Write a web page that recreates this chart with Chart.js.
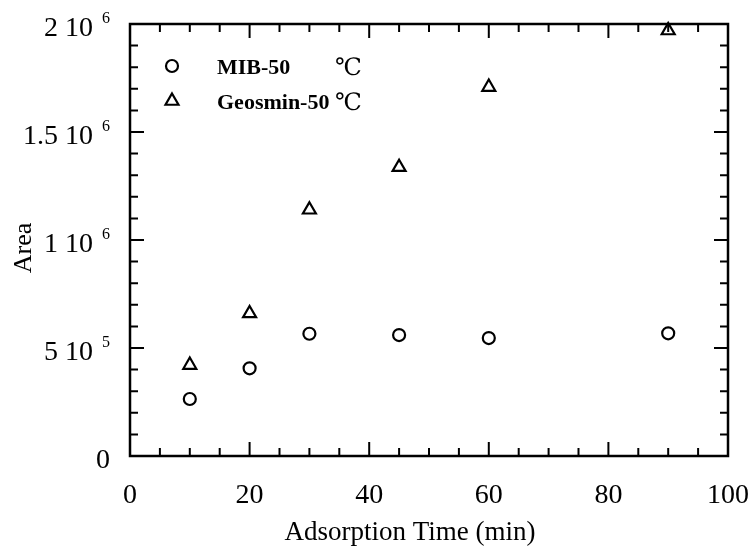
<!DOCTYPE html>
<html>
<head>
<meta charset="utf-8">
<script src="https://cdn.jsdelivr.net/npm/chart.js@4.4.1/dist/chart.umd.min.js"></script>
<style>
  html, body { margin: 0; padding: 0; background: #fff; }
  #wrap { width: 748px; height: 554px; }
</style>
</head>
<body>
<div id="wrap"><canvas id="c" width="748" height="554"></canvas></div>
<script>
// Adsorption time (min) at which each sample was taken
const adsorptionTime = [10, 20, 30, 45, 60, 90];
// Peak areas for each compound at 50 °C
const mibArea = [264000, 406000, 566000, 560000, 546000, 568000];
const geosminArea = [421000, 660000, 1140000, 1337000, 1708000, 1970000];
const seriesNames = ['MIB-50 \u2103', 'Geosmin-50 \u2103'];

// Axis tick labels: y ticks are written as mantissa + superscript power of ten
const xTickValues = [0, 20, 40, 60, 80, 100];
const xTickLabels = ['0', '20', '40', '60', '80', '100'];
const yTickValues = [0, 500000, 1000000, 1500000, 2000000];
const yTickMantissas = ['0', '5 10', '1 10', '1.5 10', '2 10'];
const yTickPowers = ['', '5', '6', '6', '6'];
const xTitle = 'Adsorption Time (min)';
const yTitle = 'Area';

const SERIF = '"Liberation Serif", "DejaVu Serif", "Noto Sans CJK JP", serif';

// Frame, inward ticks, tick labels, titles and in-plot legend
const framePlugin = {
  id: 'frame',
  afterDraw(chart) {
    const ctx = chart.ctx;
    const a = chart.chartArea;
    const xs = chart.scales.x, ys = chart.scales.y;
    ctx.save();
    ctx.strokeStyle = '#000';
    ctx.fillStyle = '#000';

    // axis frame
    ctx.lineWidth = 2.5;
    ctx.strokeRect(a.left, a.top, a.right - a.left, a.bottom - a.top);

    // inward ticks on all four sides
    ctx.lineWidth = 2;
    const MAJ = 14, MIN = 8;
    for (let v = 5; v < 100; v += 5) {
      const px = xs.getPixelForValue(v);
      const len = v % 20 === 0 ? MAJ : MIN;
      ctx.beginPath();
      ctx.moveTo(px, a.bottom); ctx.lineTo(px, a.bottom - len);
      ctx.moveTo(px, a.top); ctx.lineTo(px, a.top + len);
      ctx.stroke();
    }
    for (let v = 100000; v < 2000000; v += 100000) {
      const py = ys.getPixelForValue(v);
      const len = v % 500000 === 0 ? MAJ : MIN;
      ctx.beginPath();
      ctx.moveTo(a.left, py); ctx.lineTo(a.left + len, py);
      ctx.moveTo(a.right, py); ctx.lineTo(a.right - len, py);
      ctx.stroke();
    }

    // x tick labels
    ctx.font = '28px ' + SERIF;
    ctx.textAlign = 'center';
    ctx.textBaseline = 'alphabetic';
    xTickValues.forEach((v, i) => {
      ctx.fillText(xTickLabels[i], xs.getPixelForValue(v), a.bottom + 47);
    });

    // y tick labels with superscript powers
    const rightEdge = a.left - 20;
    yTickValues.forEach((v, i) => {
      const py = ys.getPixelForValue(v);
      let x = rightEdge;
      ctx.textBaseline = 'alphabetic';
      ctx.textAlign = 'right';
      if (yTickPowers[i]) {
        ctx.font = '16px ' + SERIF;
        ctx.fillText(yTickPowers[i], x, py - 1);
        x -= ctx.measureText(yTickPowers[i]).width + 9;
      }
      ctx.font = '28px ' + SERIF;
      ctx.fillText(yTickMantissas[i], x, py + 12);
    });

    // axis titles
    ctx.font = '27px ' + SERIF;
    ctx.textAlign = 'center';
    ctx.textBaseline = 'alphabetic';
    ctx.fillText(xTitle, 410, 540);
    ctx.save();
    ctx.translate(31, 248);
    ctx.rotate(-Math.PI / 2);
    ctx.font = '26px ' + SERIF;
    ctx.fillText(yTitle, 0, 0);
    ctx.restore();

    // legend inside the plot area: marker, bold name, unit in its own column
    const unitColumn = 335;
    chart.data.datasets.forEach((ds, i) => {
      const cy = 66 + i * 35;
      ctx.save();
      ctx.fillStyle = ds.backgroundColor;
      ctx.strokeStyle = ds.borderColor;
      ctx.lineWidth = ds.borderWidth;
      Chart.helpers.drawPoint(ctx, {
        pointStyle: ds.pointStyle,
        radius: ds.pointRadius,
        borderWidth: ds.borderWidth,
        rotation: 0
      }, 172, cy);
      ctx.restore();
      const cut = ds.label.lastIndexOf(' ');
      const name = ds.label.slice(0, cut);
      const unit = ds.label.slice(cut + 1);
      ctx.textAlign = 'left';
      ctx.textBaseline = 'alphabetic';
      ctx.font = 'bold 22px ' + SERIF;
      ctx.fillText(name, 217, cy + 8);
      ctx.font = '24px ' + SERIF;
      ctx.fillText(unit, unitColumn, cy + 9);
    });
    ctx.restore();
  }
};

new Chart(document.getElementById('c'), {
  type: 'scatter',
  data: {
    datasets: [
      {
        label: seriesNames[0],
        data: adsorptionTime.map((t, i) => ({ x: t, y: mibArea[i] })),
        pointStyle: 'circle',
        pointRadius: 6,
        borderWidth: 2.2,
        borderColor: '#000',
        backgroundColor: '#fff'
      },
      {
        label: seriesNames[1],
        data: adsorptionTime.map((t, i) => ({ x: t, y: geosminArea[i] })),
        pointStyle: 'triangle',
        pointRadius: 7.5,
        borderWidth: 2.2,
        borderColor: '#000',
        backgroundColor: '#fff'
      }
    ]
  },
  options: {
    responsive: false,
    animation: false,
    devicePixelRatio: 1,
    clip: false,
    layout: { padding: { left: 0, top: 24, right: 20, bottom: 0 } },
    plugins: {
      legend: { display: false },
      tooltip: { enabled: false }
    },
    scales: {
      x: {
        type: 'linear',
        min: 0, max: 100,
        grid: { display: false },
        border: { display: false },
        ticks: { display: false, stepSize: 20 },
        afterFit(scale) { scale.height = 98; }
      },
      y: {
        type: 'linear',
        min: 0, max: 2000000,
        grid: { display: false },
        border: { display: false },
        ticks: { display: false, stepSize: 500000 },
        afterFit(scale) { scale.width = 130; }
      }
    }
  },
  plugins: [framePlugin]
});
</script>
</body>
</html>
